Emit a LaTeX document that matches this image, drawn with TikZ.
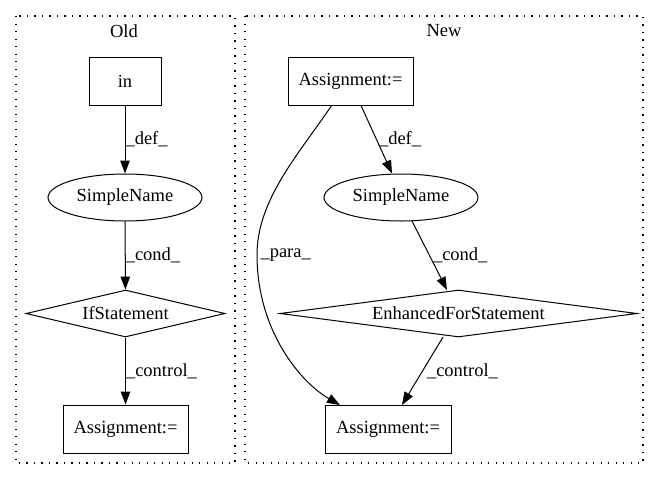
\documentclass[tikz,border=0pt]{standalone}
\usepackage{fontspec}
\setmainfont{Liberation Serif}
\usetikzlibrary{arrows.meta,shapes.geometric}
\begin{document}
\begin{tikzpicture}[x=1pt,y=-1pt,
  every node/.style={font=\fontsize{18.5}{21}\selectfont, inner sep=0pt},
  cluster/.style={draw, line width=1.1pt, dash pattern=on 1.3pt off 6.2pt},
  boxnode/.style={draw, line width=1pt, rectangle},
  ellnode/.style={draw, line width=1pt, ellipse, minimum width=154pt, minimum height=47pt},
  dianode/.style={draw, line width=1pt, diamond, inner sep=0pt},
  edge/.style={draw, line width=1pt, -{Triangle[length=13pt,width=9.5pt]}},
  elabel/.style={anchor=west, inner sep=0pt}
]
\useasboundingbox (0,0) rectangle (659,480);
% clusters
\draw[cluster] (16,16) rectangle (235,463);
\draw[cluster] (245,16) rectangle (643,463);
\node (oldlabel) at (124,31) {Old};
\node (newlabel) at (444,31) {New};
% Old nodes
\node[boxnode, minimum width=72pt, minimum height=48pt] (oin) at (125,81) {in};
\node[ellnode] (osn) at (125,197.5) {SimpleName};
\node[dianode, minimum width=199pt, minimum height=47pt, aspect=4.2] (oif) at (125.5,313.5) {IfStatement};
\node[boxnode, minimum width=125pt, minimum height=48pt] (oas) at (125.5,429) {Assignment:=};
% New nodes
\node[boxnode, minimum width=125pt, minimum height=48pt] (nas1) at (350.5,81) {Assignment:=};
\node[ellnode] (nsn) at (401,197.5) {SimpleName};
\node[dianode, minimum width=357pt, minimum height=47pt, aspect=7.6] (nfor) at (458.5,313.5) {EnhancedForStatement};
\node[boxnode, minimum width=126pt, minimum height=48pt] (nas2) at (388,429) {Assignment:=};
% Old edges
\draw[edge] (oin) -- node[elabel] {\_def\_} (osn);
\draw[edge] (osn) -- node[elabel] {\_cond\_} (oif);
\draw[edge] (oif) -- node[elabel] {\_control\_} (oas);
% New edges
\coordinate (ndefs) at (361,105);
\coordinate (ndefe) at (392,174);
\draw[edge] (nas1.south -| ndefs) -- node[elabel, xshift=2pt] {\_def\_} (nsn.north -| ndefe);
\coordinate (ncs) at (412,221);
\coordinate (nce) at (447,290);
\draw[edge] (ncs) -- node[elabel, xshift=3pt] {\_cond\_} (nce);
\coordinate (nks) at (443,337);
\coordinate (nke) at (402,405);
\draw[edge] (nks) -- node[elabel, xshift=4pt] {\_control\_} (nke);
\coordinate (nps) at (332,105);
\coordinate (npm) at (257,255);
\coordinate (npe) at (340,405);
\draw[edge] (nps) .. controls (298,155) and (257,200) .. (npm) node[elabel, xshift=3pt] {\_para\_} .. controls (257,330) and (300,382) .. (npe);
\end{tikzpicture}
\end{document}
